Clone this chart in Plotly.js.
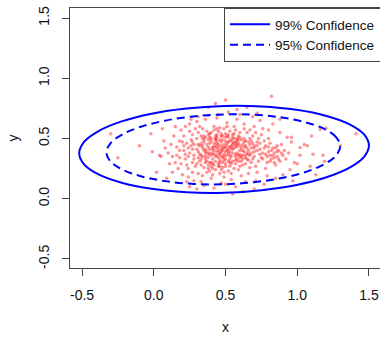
<!DOCTYPE html>
<html>
<head>
<meta charset="utf-8">
<script src="https://cdn.plot.ly/plotly-3.0.1.min.js"></script>
<style>
html,body{margin:0;padding:0;overflow:hidden;background:#fff;}
#chart{width:382px;height:340px;}
</style>
</head>
<body>
<div id="chart"></div>
<script>
// Scatter points
const pts = [
[0.45,0.40],[0.48,0.42],[0.42,0.37],[0.51,0.44],[0.39,0.41],[0.47,0.35],[0.53,0.39],[0.44,0.46],[0.36,0.38],[0.50,0.33],
[0.41,0.43],[0.55,0.41],[0.46,0.38],[0.38,0.34],[0.52,0.47],[0.43,0.31],[0.49,0.45],[0.57,0.37],[0.40,0.48],[0.34,0.42],
[0.47,0.41],[0.44,0.36],[0.50,0.39],[0.45,0.43],[0.42,0.40],[0.54,0.35],[0.37,0.45],[0.48,0.30],[0.58,0.43],[0.33,0.36],
[0.46,0.49],[0.41,0.33],[0.52,0.41],[0.39,0.38],[0.44,0.42],[0.49,0.37],[0.56,0.46],[0.35,0.40],[0.43,0.44],[0.51,0.36],
[0.47,0.44],[0.40,0.36],[0.53,0.43],[0.45,0.34],[0.38,0.43],[0.50,0.48],[0.42,0.46],[0.55,0.38],[0.36,0.33],[0.48,0.40],
[0.31,0.39],[0.60,0.40],[0.44,0.39],[0.46,0.32],[0.39,0.46],[0.52,0.38],[0.41,0.41],[0.57,0.44],[0.34,0.35],[0.49,0.43],
[0.43,0.35],[0.47,0.47],[0.54,0.42],[0.37,0.39],[0.45,0.45],[0.40,0.30],[0.51,0.40],[0.59,0.36],[0.32,0.44],[0.46,0.37],
[0.48,0.34],[0.42,0.43],[0.55,0.45],[0.38,0.37],[0.44,0.48],[0.50,0.42],[0.36,0.41],[0.53,0.33],[0.41,0.38],[0.47,0.39],
[0.25,0.38],[0.28,0.45],[0.22,0.33],[0.30,0.50],[0.27,0.30],[0.62,0.45],[0.65,0.38],[0.68,0.42],[0.63,0.50],[0.70,0.35],
[0.24,0.42],[0.29,0.27],[0.31,0.55],[0.61,0.31],[0.66,0.47],[0.72,0.40],[0.26,0.49],[0.33,0.28],[0.64,0.34],[0.69,0.52],
[0.35,0.52],[0.40,0.55],[0.45,0.56],[0.50,0.54],[0.55,0.53],[0.58,0.50],[0.38,0.25],[0.43,0.24],[0.48,0.26],[0.53,0.27],
[0.57,0.29],[0.60,0.55],[0.34,0.58],[0.42,0.60],[0.49,0.58],[0.56,0.60],[0.37,0.22],[0.46,0.21],[0.52,0.23],[0.59,0.24],
[0.21,0.40],[0.23,0.28],[0.20,0.47],[0.74,0.46],[0.76,0.38],[0.73,0.31],[0.78,0.44],[0.75,0.53],[0.71,0.27],[0.67,0.57],
[0.32,0.31],[0.35,0.47],[0.39,0.51],[0.44,0.53],[0.47,0.52],[0.52,0.51],[0.58,0.48],[0.61,0.42],[0.63,0.39],[0.60,0.34],
[0.28,0.36],[0.30,0.41],[0.33,0.46],[0.36,0.30],[0.40,0.27],[0.45,0.29],[0.50,0.29],[0.55,0.31],[0.62,0.28],[0.66,0.32],
[0.27,0.53],[0.31,0.34],[0.38,0.49],[0.43,0.50],[0.48,0.49],[0.54,0.49],[0.59,0.46],[0.64,0.44],[0.67,0.36],[0.69,0.46],
[0.10,0.38],[0.12,0.45],[0.15,0.30],[0.08,0.42],[0.14,0.52],[0.17,0.25],[0.18,0.40],[0.16,0.36],[0.11,0.29],[0.19,0.57],
[0.05,0.35],[0.07,0.48],[0.13,0.22],[0.20,0.20],[0.22,0.60],[0.25,0.62],[0.24,0.18],[0.28,0.15],[0.30,0.64],[0.33,0.14],
[0.36,0.66],[0.40,0.17],[0.44,0.67],[0.47,0.13],[0.51,0.63],[0.54,0.16],[0.58,0.66],[0.61,0.19],[0.63,0.62],[0.66,0.21],
[0.70,0.60],[0.72,0.22],[0.76,0.58],[0.78,0.25],[0.80,0.50],[0.82,0.33],[0.84,0.38],[0.86,0.35],[0.83,0.42],[0.88,0.31],
[0.85,0.28],[0.87,0.40],[0.90,0.36],[0.81,0.36],[0.89,0.45],[0.92,0.33],[0.84,0.30],[0.86,0.44],[0.91,0.40],[0.94,0.38],
[0.80,0.57],[0.83,0.62],[0.88,0.55],[0.93,0.51],[0.96,0.47],[0.98,0.30],[0.95,0.24],[0.90,0.20],[0.85,0.17],[0.79,0.19],
[0.74,0.65],[0.69,0.68],[0.60,0.70],[0.52,0.72],[0.45,0.70],[0.38,0.69],[0.31,0.68],[0.26,0.66],[0.23,0.14],[0.35,0.11],
[0.42,0.09],[0.50,0.12],[0.57,0.10],[0.64,0.14],[0.71,0.15],[0.77,0.12],[0.27,0.22],[0.34,0.19],[0.41,0.20],[0.49,0.18],
[0.18,0.34],[0.21,0.52],[0.24,0.25],[0.26,0.44],[0.29,0.58],[0.31,0.21],[0.34,0.50],[0.37,0.56],[0.39,0.23],[0.42,0.57],
[0.46,0.59],[0.49,0.22],[0.53,0.56],[0.56,0.25],[0.59,0.52],[0.62,0.36],[0.65,0.55],[0.67,0.26],[0.70,0.44],[0.73,0.50],
[0.75,0.34],[0.77,0.42],[0.79,0.30],[0.81,0.46],[0.19,0.29],[0.22,0.37],[0.25,0.56],[0.28,0.33],[0.32,0.60],[0.35,0.26],
[0.38,0.53],[0.41,0.25],[0.44,0.58],[0.47,0.24],[0.51,0.60],[0.54,0.21],[0.57,0.57],[0.60,0.27],[0.63,0.58],[0.66,0.40],
[0.68,0.30],[0.71,0.55],[0.74,0.37],[0.77,0.48],[0.80,0.39],[0.23,0.46],[0.27,0.41],[0.30,0.29],[0.33,0.52],[0.36,0.35],
[0.39,0.30],[0.43,0.52],[0.46,0.27],[0.50,0.51],[0.53,0.30],[0.56,0.50],[0.59,0.31],[0.61,0.49],[0.64,0.29],[0.67,0.50],
[0.70,0.39],[0.72,0.47],[0.55,0.47],[0.58,0.33],[0.60,0.44],[0.63,0.47],[0.65,0.42],[0.68,0.38],[0.52,0.31],[0.57,0.35],
[0.62,0.40],[0.64,0.36],[0.58,0.45],[0.54,0.44],[0.51,0.46],[0.56,0.42],[0.60,0.37],[0.53,0.48],[0.49,0.35],[0.57,0.47],
[0.31,0.45],[0.33,0.33],[0.35,0.49],[0.37,0.31],[0.39,0.54],[0.41,0.29],[0.43,0.49],[0.45,0.27],[0.47,0.54],[0.49,0.32],
[0.51,0.52],[0.53,0.36],[0.55,0.51],[0.57,0.32],[0.59,0.49],[0.61,0.35],[0.63,0.43],[0.65,0.33],[0.67,0.45],[0.69,0.33],
[0.34,0.44],[0.36,0.51],[0.38,0.28],[0.40,0.50],[0.42,0.28],[0.44,0.51],[0.46,0.30],[0.48,0.52],[0.50,0.27],[0.52,0.53],
[0.54,0.29],[0.56,0.54],[0.58,0.38],[0.60,0.51],[0.62,0.33],[0.64,0.48],[0.66,0.37],[0.68,0.48],[0.70,0.42],[0.32,0.37],
[0.72,0.44],[0.74,0.41],[0.76,0.33],[0.78,0.37],[0.80,0.43],[0.82,0.40],[0.84,0.34],[0.86,0.39],[0.83,0.36],[0.85,0.42],
[0.87,0.33],[0.81,0.31],[0.89,0.38],[0.79,0.35],[0.27,0.47],[0.24,0.35],[0.21,0.44],[0.18,0.48],[0.16,0.43],[0.13,0.35],
[-0.30,0.54],[-0.25,0.34],[-0.02,0.54],[-0.01,0.39],[0.04,0.36],[0.02,0.22],[0.50,0.82],[0.82,0.85],[0.43,0.79],[1.41,0.54],
[1.20,0.585],[1.16,0.575],[1.30,0.44],[1.05,0.45],[1.07,0.44],[1.02,0.425],[1.11,0.37],[1.18,0.36],[1.02,0.36],[1.09,0.27],
[1.00,0.29],[1.19,0.31],[0.96,0.51],[0.65,0.76],[0.58,0.74],[0.72,0.71],[0.30,0.08],[0.62,0.06],[0.55,0.04],[0.15,0.60],
[0.09,0.17],[1.10,0.52],[1.13,0.20],[0.97,0.15],[0.06,0.58],[-0.10,0.44],[0.38,0.76],[0.88,0.66],[0.25,0.10],[0.70,0.08]
];
const pointX = pts.map(p => p[0]);
const pointY = pts.map(p => p[1]);

// 99% confidence ellipse outline
const ell99X = [1.500,1.466,1.365,1.204,0.995,0.752,0.490,0.228,-0.015,-0.224,-0.385,-0.486,-0.520,-0.486,-0.385,-0.224,-0.015,0.228,0.490,0.752,0.995,1.204,1.365,1.466,1.500];
const ell99Y = [0.442,0.534,0.618,0.687,0.738,0.766,0.770,0.749,0.706,0.642,0.562,0.472,0.378,0.286,0.202,0.133,0.082,0.054,0.050,0.071,0.114,0.178,0.258,0.348,0.442];
// 95% confidence ellipse outline
const ell95X = [1.300,1.272,1.191,1.061,0.893,0.696,0.485,0.274,0.078,-0.091,-0.221,-0.302,-0.330,-0.302,-0.221,-0.091,0.078,0.274,0.485,0.696,0.893,1.061,1.191,1.272,1.300];
const ell95Y = [0.436,0.510,0.578,0.633,0.674,0.697,0.700,0.683,0.648,0.597,0.533,0.460,0.384,0.310,0.243,0.187,0.146,0.123,0.120,0.137,0.172,0.223,0.288,0.360,0.436];

const xTicks = [-0.5, 0, 0.5, 1, 1.5];
const xTickText = ['-0.5', '0.0', '0.5', '1.0', '1.5'];
const yTicks = [-0.5, 0, 0.5, 1, 1.5];
const yTickText = ['-0.5', '0.0', '0.5', '1.0', '1.5'];
const seriesNames = ['99% Confidence', '95% Confidence'];

const FONT = 'Liberation Sans, Arial, Helvetica, sans-serif';
const AX = '#444';

const traces = [
  {x: pointX, y: pointY, type: 'scatter', mode: 'markers', showlegend: false, hoverinfo: 'skip',
   marker: {color: 'rgba(255,0,0,0.42)', size: 3.5, line: {width: 0}}},
  {x: ell99X, y: ell99Y, type: 'scatter', mode: 'lines', name: seriesNames[0],
   line: {color: '#0000FF', width: 2, shape: 'spline', smoothing: 1}},
  {x: ell95X, y: ell95Y, type: 'scatter', mode: 'lines', name: seriesNames[1],
   line: {color: '#0000FF', width: 2, shape: 'spline', smoothing: 1, dash: '8px,5px'}}
];

const layout = {
  width: 382, height: 340,
  margin: {l: 70, r: 1, t: 8, b: 72},
  paper_bgcolor: '#fff', plot_bgcolor: '#fff',
  font: {family: FONT, size: 14, color: '#111'},
  showlegend: true,
  legend: {x: 1, y: 1, xanchor: 'right', yanchor: 'top', bgcolor: '#fff', itemwidth: 40,
           bordercolor: AX, borderwidth: 1, font: {family: FONT, size: 13.5, color: '#111'}},
  xaxis: {range: [-0.584, 1.584], tickvals: xTicks, ticktext: xTickText,
          ticks: 'outside', ticklen: 7, tickwidth: 1, tickcolor: AX,
          showline: true, linecolor: AX, linewidth: 1, mirror: true,
          showgrid: false, zeroline: false, ticklabelstandoff: 7,
          title: {text: 'x', font: {family: FONT, size: 14, color: '#111'}, standoff: 20}},
  yaxis: {range: [-0.575, 1.583], tickvals: yTicks, ticktext: yTickText, tickangle: -90,
          ticks: 'outside', ticklen: 7, tickwidth: 1, tickcolor: AX,
          showline: true, linecolor: AX, linewidth: 1, mirror: true,
          showgrid: false, zeroline: false, ticklabelstandoff: 7,
          title: {text: 'y', font: {family: FONT, size: 14, color: '#111'}, standoff: 14}}
};

Plotly.newPlot('chart', traces, layout, {displayModeBar: false, staticPlot: true});
</script>
</body>
</html>
